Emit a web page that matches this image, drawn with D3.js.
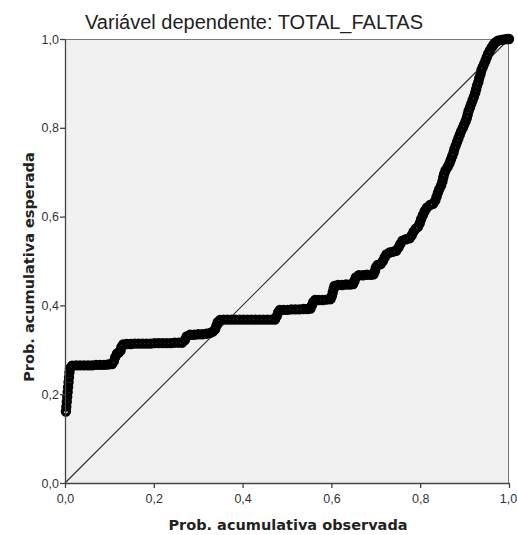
<!DOCTYPE html>
<html><head><meta charset="utf-8">
<script src="https://cdn.jsdelivr.net/npm/d3@7/dist/d3.min.js"></script>
<style>body{margin:0;background:#fff}svg{display:block}</style>
</head><body><svg id="c" width="517" height="535"></svg>
<script>
const chartTitle = "Variável dependente: TOTAL_FALTAS";
const xTitle = "Prob. acumulativa observada";
const yTitle = "Prob. acumulativa esperada";
const tickValues = [0, 0.2, 0.4, 0.6, 0.8, 1.0];

const obsProb = [
  0.002,0.003,0.004,0.005,0.006,0.007,0.008,0.009,0.010,0.011,
  0.016,0.025,0.034,0.043,0.052,0.061,0.070,0.079,0.088,0.097,0.106,
  0.110,0.113,0.117,0.121,0.125,0.127,0.131,
  0.139,0.148,0.157,0.166,0.175,0.184,0.193,0.202,0.211,0.220,0.229,0.238,0.247,0.256,0.264,
  0.270,0.274,
  0.282,0.291,0.300,0.309,0.318,0.327,
  0.333,0.338,0.341,0.344,0.349,
  0.357,0.366,0.375,0.384,0.393,0.402,0.411,0.420,0.429,0.438,0.447,0.456,0.465,0.473,
  0.477,0.480,0.484,
  0.492,0.501,0.510,0.519,0.528,0.537,0.546,0.553,
  0.556,0.559,0.563,
  0.571,0.580,0.589,0.598,
  0.601,0.603,0.605,0.607,
  0.615,0.624,0.633,0.642,0.649,
  0.652,0.655,
  0.662,0.671,0.680,0.689,0.695,
  0.698,0.700,0.704,0.711,0.716,0.720,0.724,0.731,0.739,0.746,0.751,0.755,0.760,0.768,0.776,
  0.781,0.785,0.790,0.795,0.799,0.802,0.806,0.810,0.815,0.822,0.829,0.834,0.837,0.840,0.843,0.847,
  0.850,0.852,0.854,0.857,0.862,0.866,0.869,0.872,0.875,0.877,0.880,0.883,0.886,0.889,0.892,
  0.896,0.899,0.902,0.905,0.907,0.909,0.912,0.915,0.918,0.921,0.924,0.926,0.928,0.931,
  0.933,0.936,0.938,0.941,0.944,0.947,0.950,0.953,0.957,0.961,0.965,0.969,
  0.975,0.982,0.989,0.996,1.000
];
const expProb = [
  0.161,0.172,0.183,0.194,0.205,0.216,0.227,0.238,0.249,0.258,
  0.264,0.265,0.265,0.265,0.265,0.265,0.266,0.266,0.266,0.267,0.268,
  0.274,0.283,0.291,0.294,0.298,0.306,0.312,
  0.313,0.313,0.314,0.314,0.314,0.314,0.314,0.315,0.315,0.315,0.315,0.315,0.316,0.316,0.316,
  0.322,0.330,
  0.334,0.334,0.335,0.335,0.336,0.338,
  0.341,0.346,0.354,0.362,0.367,
  0.368,0.368,0.368,0.368,0.368,0.368,0.368,0.368,0.368,0.368,0.368,0.368,0.368,0.368,
  0.376,0.384,0.390,
  0.390,0.390,0.391,0.391,0.391,0.392,0.392,0.393,
  0.400,0.407,0.412,
  0.412,0.412,0.413,0.414,
  0.421,0.429,0.437,0.444,
  0.446,0.446,0.447,0.447,0.448,
  0.455,0.463,
  0.468,0.468,0.469,0.469,0.470,
  0.477,0.485,0.491,0.493,0.500,0.508,0.515,0.519,0.521,0.523,0.530,0.538,0.546,0.549,0.551,
  0.558,0.566,0.573,0.577,0.585,0.594,0.603,0.612,0.620,0.626,0.629,0.636,0.645,0.654,0.662,0.670,
  0.679,0.688,0.696,0.704,0.712,0.720,0.728,0.736,0.744,0.752,0.760,0.768,0.776,0.784,0.792,
  0.800,0.807,0.814,0.822,0.830,0.838,0.846,0.854,0.862,0.870,0.879,0.887,0.895,0.903,
  0.912,0.921,0.930,0.937,0.944,0.951,0.959,0.967,0.974,0.981,0.987,0.992,
  0.996,0.998,0.999,1.000,1.000
];

const svg = d3.select("#c");
const font = "'Liberation Sans', Arial, sans-serif";
const boldFont = "'DejaVu Sans', Verdana, sans-serif";
const x = d3.scaleLinear().domain([0, 1]).range([65, 509]);
const y = d3.scaleLinear().domain([0, 1]).range([483, 39]);

svg.append("rect").attr("x", x(0)).attr("y", y(1))
  .attr("width", x(1) - x(0)).attr("height", y(0) - y(1))
  .attr("fill", "#f0f0f0").attr("stroke", "none");
// frame top & right
svg.append("path").attr("d", `M${x(0)},${y(1)+0.5}H${x(1)-0.5}V${y(0)}`)
  .attr("fill", "none").attr("stroke", "#777").attr("stroke-width", 1);

// reference diagonal
svg.append("line").attr("x1", x(0)).attr("y1", y(0)).attr("x2", x(1)).attr("y2", y(1))
  .attr("stroke", "#333").attr("stroke-width", 1.2);

const pts = d3.range(Math.min(obsProb.length, expProb.length)).map(i => [obsProb[i], expProb[i]]);
svg.append("g").selectAll("circle").data(pts).join("circle")
  .attr("cx", d => x(d[0])).attr("cy", d => y(d[1])).attr("r", 3.6)
  .attr("fill", "none").attr("stroke", "#000").attr("stroke-width", 3.2);

const fmt = v => d3.format(".1f")(v).replace(".", ",");
const xa = svg.append("g").attr("transform", `translate(0,${y(0)})`)
  .call(d3.axisBottom(x).tickValues(tickValues).tickFormat(fmt).tickSize(5).tickSizeOuter(0));
const ya = svg.append("g").attr("transform", `translate(${x(0)},0)`)
  .call(d3.axisLeft(y).tickValues(tickValues).tickFormat(fmt).tickSize(5).tickSizeOuter(0));
[xa, ya].forEach(a => {
  a.select(".domain").attr("stroke", "#444").attr("stroke-width", 1.3);
  a.selectAll(".tick line").attr("stroke", "#444").attr("stroke-width", 1.3);
  a.selectAll(".tick text").attr("fill", "#333").style("font-family", font).style("font-size", "12.5px");
});
xa.selectAll(".tick text").attr("dy", 0).attr("y", 20).attr("x", d => d === 1 ? -1 : 0);
ya.selectAll(".tick text").attr("x", -6);

svg.append("text").attr("x", 254).attr("y", 29).attr("text-anchor", "middle")
  .style("font-family", font).style("font-size", "20px").attr("fill", "#222").text(chartTitle);
svg.append("text").attr("x", 288).attr("y", 530).attr("text-anchor", "middle")
  .style("font-family", boldFont).style("font-size", "14.5px").style("font-weight", "bold").attr("fill", "#222").text(xTitle);
svg.append("text").attr("transform", `translate(34,${267}) rotate(-90)`).attr("text-anchor", "middle")
  .style("font-family", boldFont).style("font-size", "14.5px").style("font-weight", "bold").attr("fill", "#222").text(yTitle);
</script></body></html>
